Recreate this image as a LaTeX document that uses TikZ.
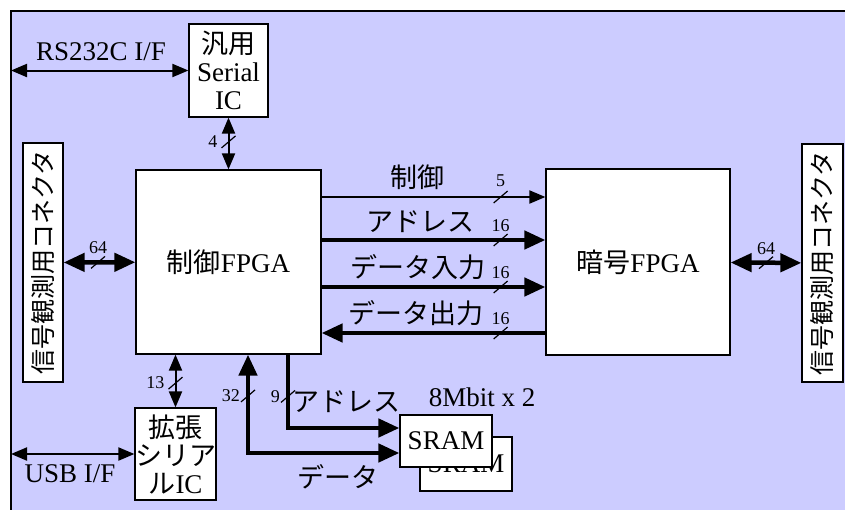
\documentclass[tikz,border=0pt]{standalone}
\usepackage{fontspec}
\setmainfont{Liberation Serif}
\newfontfamily\jp{Noto Sans CJK JP}
\usepackage{tikz}
\usetikzlibrary{arrows.meta,positioning,calc}
\definecolor{boardblue}{RGB}{204,204,255}

% bus width mark: slash across the line plus its number
\newcommand{\buswidth}[3]{%
  \draw[tick] ($(#1)+(-7,6)$) -- ($(#1)+(7,-6)$);
  \node[num, #3] (#1-n) at (#1) {#2};}

\begin{document}
\begin{tikzpicture}[x=1pt, y=-1pt,
  chip/.style={draw=black, fill=white, line width=1.2pt, inner sep=0pt,
    align=center, font=\fontsize{27}{28}\selectfont},
  conn/.style={draw=black, fill=white, line width=1.2pt, inner sep=0pt,
    rotate=90, font=\jp\fontsize{25}{25}\selectfont},
  lbl/.style={font=\fontsize{27}{28}\selectfont, inner sep=1pt},
  num/.style={font=\fontsize{18}{18}\selectfont, inner sep=1pt},
  tick/.style={line width=1.2pt},
  arr/.style={line width=2pt, -{Triangle[length=16pt,width=13pt]}},
  darr/.style={line width=2pt,
    {Triangle[length=16pt,width=13pt]}-{Triangle[length=16pt,width=13pt]}},
  bus/.style={line width=4.5pt, -{Triangle[length=21pt,width=18pt]}},
  dbus/.style={line width=4.5pt,
    {Triangle[length=21pt,width=18pt]}-{Triangle[length=21pt,width=18pt]}}
]
  \useasboundingbox (0,0) rectangle (845,509);
  \draw[line width=1.2pt, fill=boardblue] (11,11) rectangle (850,515);

  \node[chip, minimum width=79, minimum height=93] (sio) at (228.5,70.5)
    {{\jp 汎用}\\Serial\\IC};
  \node[chip, minimum width=185, minimum height=184] (ctl) at (228.5,262)
    {{\jp 制御}FPGA};
  \node[chip, minimum width=184, minimum height=186] (cry) at (638,262)
    {{\jp 暗号}FPGA};
  \node[chip, minimum width=79, minimum height=92] (usb) at (175.5,454)
    {{\jp 拡張}\\{\jp シリア}\\{\jp ル}IC};
  \node[conn, minimum width=239, minimum height=40] (lcn) at (43,262.5)
    {信号観測用コネクタ};
  \node[conn, minimum width=238, minimum height=41] (rcn) at (822.5,263)
    {信号観測用コネクタ};
  \node[chip, minimum width=92, minimum height=54] (sram2) at (466,464) {SRAM};
  \node[chip, minimum width=92, minimum height=52] (sram1) at (446,441) {SRAM};

  \node[lbl] (rsl) at (101,52) {RS232C I/F};
  \node[lbl] (usbl) at (70,474) {USB I/F};
  \node[lbl] (mem) at (482,397) {8Mbit x 2};
  \node[lbl] (adl) at (346,402) {\jp アドレス};
  \node[lbl] (dtl) at (338,477) {\jp データ};

  \coordinate (rsend) at (11,70.5);
  \coordinate (usbend) at (11,454);
  \coordinate (r1) at (0,197);
  \coordinate (r2) at (0,240);
  \coordinate (r3) at (0,287);
  \coordinate (r4) at (0,333);
  \coordinate (acorner) at (288,428);
  \coordinate (dcorner) at (248,453);

  \draw[darr] (rsend) -- (sio.west);
  \draw[darr] (usbend) -- (usb.west);
  \draw[darr] (sio.south) -- coordinate[pos=0.47] (m4) (ctl.north);
  \draw[darr] (ctl.south -| usb.north) -- coordinate[pos=0.54] (m13) (usb.north);
  \draw[dbus] (lcn) -- coordinate[pos=0.48] (m64a) (ctl);
  \draw[dbus] (cry) -- coordinate[pos=0.5] (m64b) (rcn);

  \draw[arr] (ctl.east |- r1) -- coordinate[pos=0.8] (m5)
    node[lbl, above=5pt, pos=0.43] (t1) {\jp 制御} (cry.west |- r1);
  \draw[bus] (ctl.east |- r2) -- coordinate[pos=0.8] (m16a)
    node[lbl, above=4pt, pos=0.44] (t2) {\jp アドレス} (cry.west |- r2);
  \draw[bus] (ctl.east |- r3) -- coordinate[pos=0.8] (m16b)
    node[lbl, above=4pt, pos=0.43] (t3) {\jp データ入力} (cry.west |- r3);
  \draw[bus] (cry.west |- r4) -- coordinate[pos=0.2] (m16c)
    node[lbl, above=4pt, pos=0.58] (t4) {\jp データ出力} (ctl.east |- r4);

  \draw[bus] (ctl.south -| acorner) -- coordinate[pos=0.57] (m9) (acorner)
    -- (sram1.west |- acorner);
  \draw[dbus] (ctl.south -| dcorner) -- coordinate[pos=0.42] (m32) (dcorner)
    -- (sram1.west |- dcorner);

  \buswidth{m4}{4}{left=10pt}
  \buswidth{m13}{13}{left=10pt}
  \buswidth{m64a}{64}{above=7pt}
  \buswidth{m64b}{64}{above=7pt}
  \buswidth{m5}{5}{above=9pt}
  \buswidth{m16a}{16}{above=7pt}
  \buswidth{m16b}{16}{above=7pt}
  \buswidth{m16c}{16}{above=7pt}
  \buswidth{m9}{9}{left=7pt}
  \buswidth{m32}{32}{left=7pt}
\end{tikzpicture}
\end{document}
